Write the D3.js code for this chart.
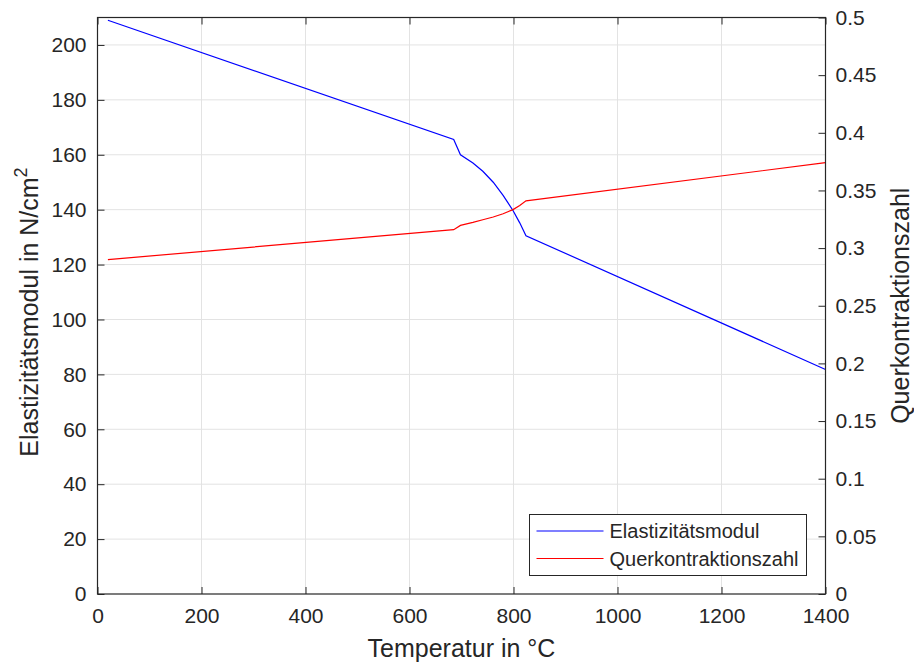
<!DOCTYPE html>
<html>
<head>
<meta charset='utf-8'>
<style>
body {
  margin: 0;
  background: #fff;
  font-family: "Liberation Sans", Arial, sans-serif;
}
svg text {
  fill: #262626;
}
.grid line {
  stroke: #e3e3e3;
  stroke-width: 1px;
}
.axis path, .axis line {
  stroke: #262626;
}
</style>
</head>
<body>
<svg width="914" height="664"></svg>
<script src='https://d3js.org/d3.v7.min.js'></script>
<script>

// temperature in °C and the two material curves
var temps = [20, 685, 698, 722, 741, 761, 780, 799, 812, 824, 1400];
var emod  = [209, 165.6, 160.0, 157.0, 154.0, 150.0, 145.2, 139.7, 135.2, 130.5, 81.8];
var nu    = [0.290, 0.316, 0.3197, 0.3223, 0.3246, 0.3270, 0.3298, 0.3334, 0.3370, 0.3410, 0.3741];

var xTicks = [0, 200, 400, 600, 800, 1000, 1200, 1400];
var leftTicks = [0, 20, 40, 60, 80, 100, 120, 140, 160, 180, 200];
var rightTicks = [0, 0.05, 0.1, 0.15, 0.2, 0.25, 0.3, 0.35, 0.4, 0.45, 0.5];
var seriesNames = ['Elastizitätsmodul', 'Querkontraktionszahl'];
var seriesColors = ['#0000ff', '#ff0000'];

var svg = d3.select('svg'),
    plotL = 97.5, plotR = 825.5, plotT = 17.5, plotB = 594,
    tickLen = 7,
    x = d3.scaleLinear().domain([0, 1400]).range([plotL, plotR]),
    yL = d3.scaleLinear().domain([0, 210]).range([plotB, plotT]),
    yR = d3.scaleLinear().domain([0, 0.5]).range([plotB, plotT]);

// grid
var grid = svg.append('g').attr('class', 'grid');
grid.selectAll('line.v')
  .data(xTicks.filter(d => d > 0 && d < 1400))
  .enter().append('line')
    .attr('x1', d => x(d)).attr('x2', d => x(d))
    .attr('y1', plotT).attr('y2', plotB);
grid.selectAll('line.h')
  .data(leftTicks.filter(d => d > 0))
  .enter().append('line')
    .attr('x1', plotL).attr('x2', plotR)
    .attr('y1', d => yL(d)).attr('y2', d => yL(d));

// curves
var lineE = d3.line().x((d, i) => x(temps[i])).y(d => yL(d));
var lineNu = d3.line().x((d, i) => x(temps[i])).y(d => yR(d));

svg.append('path')
  .attr('d', lineE(emod))
  .attr('fill', 'none')
  .attr('stroke', seriesColors[0])
  .attr('stroke-width', 1.2);
svg.append('path')
  .attr('d', lineNu(nu))
  .attr('fill', 'none')
  .attr('stroke', seriesColors[1])
  .attr('stroke-width', 1.2);

// axes: ticks point inwards like matlab
var xAxis = d3.axisBottom(x).tickValues(xTicks).tickSizeInner(-tickLen).tickSizeOuter(0).tickPadding(14)
  .tickFormat(d3.format('d'));
var xTop = d3.axisTop(x).tickValues(xTicks).tickSizeInner(-tickLen).tickSizeOuter(0).tickFormat('');
var yAxisL = d3.axisLeft(yL).tickValues(leftTicks).tickSizeInner(-tickLen).tickSizeOuter(0).tickPadding(11)
  .tickFormat(d3.format('d'));
var yAxisR = d3.axisRight(yR).tickValues(rightTicks).tickSizeInner(-tickLen).tickSizeOuter(0).tickPadding(10)
  .tickFormat(d => String(+d.toFixed(2)));

function styleAxis(g) {
  g.attr('class', 'axis');
  g.select('.domain').remove();
  g.selectAll('.tick line').attr('stroke', '#262626');
  g.selectAll('.tick text')
    .attr('fill', '#262626')
    .style('font-family', '"Liberation Sans", Arial, sans-serif')
    .style('font-size', '21px');
}

svg.append('g').attr('transform', 'translate(0,' + plotB + ')').call(xAxis).call(styleAxis);
svg.append('g').attr('transform', 'translate(0,' + plotT + ')').call(xTop).call(styleAxis);
svg.append('g').attr('transform', 'translate(' + plotL + ',0)').call(yAxisL).call(styleAxis);
svg.append('g').attr('transform', 'translate(' + plotR + ',0)').call(yAxisR).call(styleAxis);

// box
svg.append('rect')
  .attr('x', plotL).attr('y', plotT)
  .attr('width', plotR - plotL).attr('height', plotB - plotT)
  .attr('fill', 'none')
  .attr('stroke', '#262626')
  .attr('stroke-width', 1.2);

// axis labels
svg.append('text')
  .attr('x', (plotL + plotR) / 2)
  .attr('y', 657)
  .attr('text-anchor', 'middle')
  .style('font-size', '25px')
  .text('Temperatur in °C');

var ylab = svg.append('text')
  .attr('transform', 'translate(38,312) rotate(-90)')
  .attr('text-anchor', 'middle')
  .style('font-size', '25px');
ylab.append('tspan').text('Elastizitätsmodul in N/cm');
ylab.append('tspan').attr('dy', -11).style('font-size', '18px').text('2');

svg.append('text')
  .attr('transform', 'translate(909,' + ((plotT + plotB) / 2) + ') rotate(-90)')
  .attr('text-anchor', 'middle')
  .style('font-size', '25px')
  .text('Querkontraktionszahl');

// legend
var legend = svg.append('g').attr('transform', 'translate(529.5,514.5)');
legend.append('rect')
  .attr('width', 277).attr('height', 61)
  .attr('fill', '#fff')
  .attr('stroke', '#262626')
  .attr('stroke-width', 1);
var rows = legend.selectAll('g.row')
  .data(seriesNames)
  .enter().append('g')
    .attr('transform', (d, i) => 'translate(0,' + (16.5 + i * 27.5) + ')');
rows.append('line')
  .attr('x1', 7).attr('x2', 74)
  .attr('stroke', (d, i) => seriesColors[i])
  .attr('stroke-width', 1.2);
rows.append('text')
  .attr('x', 80)
  .attr('dy', '0.35em')
  .style('font-size', '20px')
  .text(d => d);

</script>
</body>
</html>
